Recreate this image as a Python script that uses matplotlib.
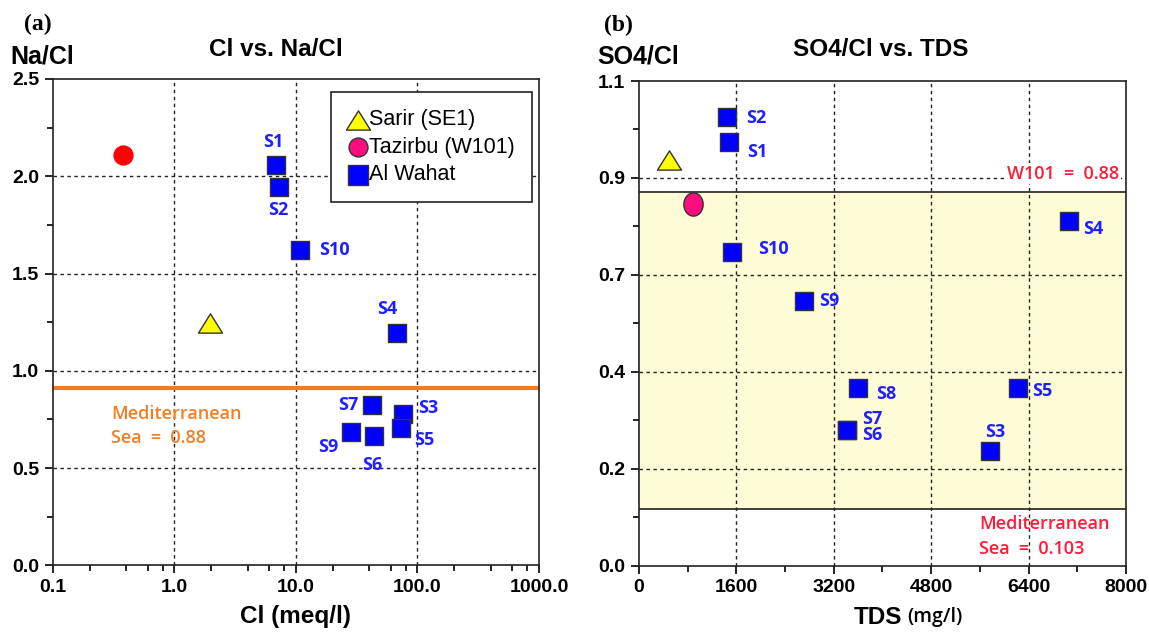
import numpy as np
import matplotlib
matplotlib.use('Agg')
import matplotlib.pyplot as plt
from matplotlib.path import Path
from matplotlib.ticker import FixedLocator, NullFormatter

# panel (a): Cl vs. Na/Cl
wahat_names_a = ['S1', 'S2', 'S3', 'S4', 'S5', 'S6', 'S7', 'S9', 'S10']
wahat_cl = [6.84, 7.3, 76, 67.5, 73, 43.6, 42.5, 28.4, 10.7]
wahat_nacl = [2.056, 1.945, 0.776, 1.195, 0.704, 0.666, 0.824, 0.687, 1.62]
sarir_cl, sarir_nacl = 1.97, 1.245
tazirbu_cl, tazirbu_nacl = 0.375, 2.11
med_nacl = 0.91

# panel (b): SO4/Cl vs. TDS
wahat_names_b = ['S1', 'S2', 'S3', 'S4', 'S5', 'S6', 'S7', 'S8', 'S9', 'S10']
wahat_tds = [1473, 1450, 5769, 7061, 6235, 3415, 3415, 3591, 2709, 1532]
wahat_so4cl = [0.962, 1.018, 0.26, 0.783, 0.404, 0.308, 0.308, 0.403, 0.601, 0.712]
sarir_tds, sarir_so4cl = 498, 0.92
tazirbu_tds, tazirbu_so4cl = 887, 0.821
w101_so4cl = 0.848
med_so4cl = 0.128

# label offsets (pixels)
off_a = {'S1': (-3, 23), 'S2': (-1, -23), 'S3': (25, 6), 'S4': (-10, 24), 'S5': (23, -12),
         'S6': (-1, -29), 'S7': (-24, 0), 'S9': (-23, -15), 'S10': (35, 0)}
off_b = {'S1': (29, -10), 'S2': (29, -1), 'S3': (5, 19), 'S4': (24, -8), 'S5': (24, -3),
         'S6': (25, -5), 'S7': (25, 11), 'S8': (29, -6), 'S9': (25, 0), 'S10': (41, 3)}

plt.rcParams['font.family'] = ['Liberation Sans', 'DejaVu Sans']

BLUE = '#0000ff'
LBLUE = '#1f1fff'
EDGE = '#333333'
LABFONT = ['Open Sans', 'DejaVu Sans']
tri = Path([(-1, -0.8), (1, -0.8), (0, 0.8), (-1, -0.8)], closed=True)
ell = Path(Path.unit_circle().vertices * np.array([0.83, 1.0]), Path.unit_circle().codes)

fig = plt.figure(figsize=(11.49, 6.36), dpi=100)
ax1 = fig.add_axes([0.0461, 0.111, 0.4230, 0.7648])
ax2 = fig.add_axes([0.5561, 0.1108, 0.4238, 0.7618])

grid_kw = dict(color='#222222', linestyle=(0, (2.5, 2.5)), linewidth=1.0, zorder=1)


def style_axes(ax):
    for s in ax.spines.values():
        s.set_color('#222222')
        s.set_linewidth(1.2)
    ax.tick_params(which='major', length=6, width=1.2, direction='out', labelsize=14, pad=4)
    ax.tick_params(which='minor', length=4, width=1.2, direction='out')
    for lab in ax.get_xticklabels() + ax.get_yticklabels():
        lab.set_fontweight('bold')


# ---------- panel (a) ----------
ax1.set_xscale('log')
ax1.set_xlim(0.1, 1000)
ax1.set_ylim(0, 2.5)
ax1.set_xticks([0.1, 1, 10, 100, 1000])
ax1.set_xticklabels(['0.1', '1.0', '10.0', '100.0', '1000.0'])
ax1.xaxis.set_minor_locator(FixedLocator([m * 10.0 ** e for e in range(-1, 3) for m in (2, 4, 6, 8)]))
ax1.xaxis.set_minor_formatter(NullFormatter())
ax1.set_yticks([0, 0.5, 1.0, 1.5, 2.0, 2.5])
ax1.set_yticklabels(['0.0', '0.5', '1.0', '1.5', '2.0', '2.5'])
ax1.yaxis.set_minor_locator(FixedLocator([0.25, 0.75, 1.25, 1.75, 2.25]))
for xv in [1, 10, 100]:
    ax1.axvline(xv, **grid_kw)
for yv in [0.5, 1.0, 1.5, 2.0]:
    ax1.axhline(yv, **grid_kw)
ax1.axhline(med_nacl, color='#f47c20', linewidth=3, zorder=2)

ax1.scatter([sarir_cl], [sarir_nacl], marker=tri, s=300, color='#ffff00', edgecolors=EDGE,
            linewidths=1, zorder=4)
ax1.scatter([tazirbu_cl], [tazirbu_nacl], marker='o', s=185, color='#ff0000', edgecolors='#ff0000',
            zorder=4)
ax1.scatter(wahat_cl, wahat_nacl, marker='s', s=150, color=BLUE, edgecolors=EDGE, linewidths=1,
            zorder=4)
for n, x, y in zip(wahat_names_a, wahat_cl, wahat_nacl):
    ax1.annotate(n, (x, y), xytext=off_a[n], textcoords='offset pixels', ha='center', va='center',
                 color=LBLUE, fontsize=13, fontweight='bold', family=LABFONT, zorder=5)

ax1.text(0.30, 0.78, 'Mediterranean', color='#f47c20', fontsize=13, family=LABFONT,
         fontweight='semibold', va='center', ha='left')
ax1.text(0.30, 0.655, 'Sea  =  0.88', color='#f47c20', fontsize=13, family=LABFONT,
         fontweight='semibold', va='center', ha='left')

h_tri = ax1.scatter([], [], marker=tri, s=300, color='#ffff00', edgecolors=EDGE, linewidths=1)
h_cir = ax1.scatter([], [], marker='o', s=185, color='#ff0d7f', edgecolors=EDGE, linewidths=1)
h_sq = ax1.scatter([], [], marker='s', s=190, color=BLUE, edgecolors=EDGE, linewidths=1)
leg = ax1.legend([h_tri, h_cir, h_sq], ['Sarir (SE1)', 'Tazirbu (W101)', 'Al Wahat'],
                 loc='upper right', bbox_to_anchor=(0.985, 0.973), borderaxespad=0,
                 fontsize=15.5, frameon=True, fancybox=False, framealpha=1, edgecolor='#222222',
                 handlelength=0.9, handletextpad=0.05, labelspacing=0.3, borderpad=0.8)
leg.get_frame().set_linewidth(1.2)
leg.set_zorder(6)
style_axes(ax1)

fig.text(37.7 / 1149, 1 - 24 / 636, '(a)', family='Liberation Serif', fontweight='bold',
         fontsize=17, ha='center', va='center')
fig.text(42 / 1149, 1 - 57 / 636, 'Na/Cl', fontweight='bold', fontsize=18, ha='center', va='center')
fig.text(276 / 1149, 1 - 50 / 636, 'Cl vs. Na/Cl', fontweight='bold', fontsize=17.5, ha='center',
         va='center')
fig.text(295 / 1149, 1 - 617 / 636, 'Cl (meq/l)', fontweight='bold', fontsize=17.5, ha='center',
         va='center')

# ---------- panel (b) ----------
ax2.set_xlim(0, 8000)
ax2.set_ylim(0, 1.1)
ax2.set_xticks([0, 1600, 3200, 4800, 6400, 8000])
ax2.set_xticklabels(['0', '1600', '3200', '4800', '6400', '8000'])
ax2.xaxis.set_minor_locator(FixedLocator([800, 2400, 4000, 5600, 7200]))
yt = [0, 0.22, 0.44, 0.66, 0.88, 1.1]
ax2.set_yticks(yt)
ax2.set_yticklabels(['0.0', '0.2', '0.4', '0.7', '0.9', '1.1'])
ax2.yaxis.set_minor_locator(FixedLocator([0.11, 0.33, 0.55, 0.77, 0.99]))

ax2.axhspan(med_so4cl, w101_so4cl, color='#fdfcd6', zorder=0)
for xv in [1600, 3200, 4800, 6400]:
    ax2.axvline(xv, **grid_kw)
for yv in [0.22, 0.44, 0.66, 0.88]:
    ax2.axhline(yv, **grid_kw)
ax2.axhline(w101_so4cl, color='#222222', linewidth=1.2, zorder=2)
ax2.axhline(med_so4cl, color='#222222', linewidth=1.2, zorder=2)

ax2.scatter([sarir_tds], [sarir_so4cl], marker=tri, s=300, color='#ffff00', edgecolors=EDGE,
            linewidths=1, zorder=4)
ax2.scatter([tazirbu_tds], [tazirbu_so4cl], marker=ell, s=280, color='#ff0d7f', edgecolors=EDGE,
            linewidths=1, zorder=4)
ax2.scatter(wahat_tds, wahat_so4cl, marker='s', s=155, color=BLUE, edgecolors=EDGE, linewidths=1,
            zorder=4)
for n, x, y in zip(wahat_names_b, wahat_tds, wahat_so4cl):
    ax2.annotate(n, (x, y), xytext=off_b[n], textcoords='offset pixels', ha='center', va='center',
                 color=LBLUE, fontsize=13, fontweight='bold', family=LABFONT, zorder=5)

ax2.text(7890, 0.89, 'W101  =  0.88', color='#ff1a3a', fontsize=13, family=LABFONT,
         fontweight='semibold', ha='right', va='center', zorder=5,
         bbox=dict(facecolor='white', edgecolor='none', pad=1))
ax2.text(5583, 0.094, 'Mediterranean', color='#ff1a3a', fontsize=13, family=LABFONT,
         fontweight='semibold', ha='left', va='center', zorder=5)
ax2.text(5583, 0.037, 'Sea  =  0.103', color='#ff1a3a', fontsize=13, family=LABFONT,
         fontweight='semibold', ha='left', va='center', zorder=5)
style_axes(ax2)

fig.text(618 / 1149, 1 - 25 / 636, '(b)', family='Liberation Serif', fontweight='bold',
         fontsize=17, ha='center', va='center')
fig.text(638 / 1149, 1 - 56 / 636, 'SO4/Cl', fontweight='bold', fontsize=18, ha='center', va='center')
fig.text(881 / 1149, 1 - 50 / 636, 'SO4/Cl vs. TDS', fontweight='bold', fontsize=17.5, ha='center',
         va='center')
fig.text(902 / 1149, 1 - 617 / 636, 'TDS', fontweight='bold', fontsize=17.5, ha='right', va='center')
fig.text(907 / 1149, 1 - 617 / 636, '(mg/l)', family=LABFONT, fontweight='semibold',
         fontsize=14, ha='left', va='center')

fig.savefig('out.png', dpi=100)
